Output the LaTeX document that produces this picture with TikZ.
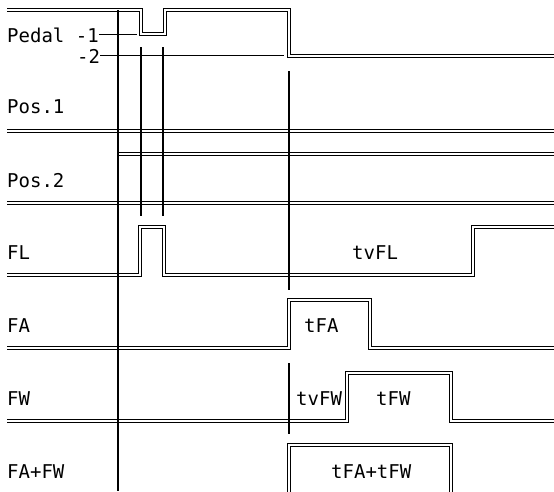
\documentclass[tikz,border=0pt]{standalone}
\usepackage{fontspec}
\setmainfont{DejaVu Sans Mono}
\begin{document}
\begin{tikzpicture}[x=1pt,y=-1pt,
  sig/.style={draw=black, double=white, line width=0.9pt, double distance=1.6pt},
  vline/.style={draw=black, line width=1.3pt},
  leader/.style={draw=black, line width=1pt},
  lbl/.style={anchor=base west, inner sep=0pt, font=\fontsize{19}{22}\selectfont}]
\useasboundingbox (0,0) rectangle (554,491);
% labels
\node[lbl] (lped) at (7,42) {Pedal -1};
\node[lbl] (lped2) at (77,63) {-2};
\node[lbl] (lpos1) at (7,113) {Pos.1};
\node[lbl] (lpos2) at (7,187) {Pos.2};
\node[lbl] (lfl) at (7,259) {FL};
\node[lbl] (lfa) at (7,332) {FA};
\node[lbl] (lfw) at (7,405) {FW};
\node[lbl] (lfafw) at (7,478) {FA+FW};
% pulse texts
\node[lbl] (ttvfl) at (352,259) {tvFL};
\node[lbl] (ttfa) at (304,332) {tFA};
\node[lbl] (ttvfw) at (296,405) {tvFW};
\node[lbl] (ttfw) at (376,405) {tFW};
\node[lbl] (ttfafw) at (331,478) {tFA+tFW};
% signals
\draw[sig] (7,10) -- (141,10) -- (141,34) -- (165,34) -- (165,10) -- (289,10) -- (289,56) -- (554,56);
\draw[sig] (7,131) -- (554,131);
\draw[sig] (118,154) -- (554,154);
\draw[sig] (7,203) -- (554,203);
\draw[sig] (7,275) -- (140,275) -- (140,227) -- (164,227) -- (164,275) -- (473,275) -- (473,227) -- (554,227);
\draw[sig] (7,348) -- (289,348) -- (289,300) -- (370,300) -- (370,348) -- (554,348);
\draw[sig] (7,421) -- (347,421) -- (347,373) -- (451,373) -- (451,421) -- (554,421);
\draw[sig] (289,492) -- (289,445) -- (451,445) -- (451,492);
% leaders
\coordinate (e1) at (137,34);
\coordinate (e2) at (284,57);
\draw[leader] (lped.east) -- (lped.east -| e1);
\draw[leader] (lped2.east) -- (lped2.east -| e2);
% vertical time markers
\draw[vline] (118,10) -- (118,491);
\draw[vline] (141,47) -- (141,216);
\draw[vline] (163,47) -- (163,216);
\draw[vline] (289,71) -- (289,290);
\draw[vline] (289,363) -- (289,434);
\end{tikzpicture}
\end{document}
